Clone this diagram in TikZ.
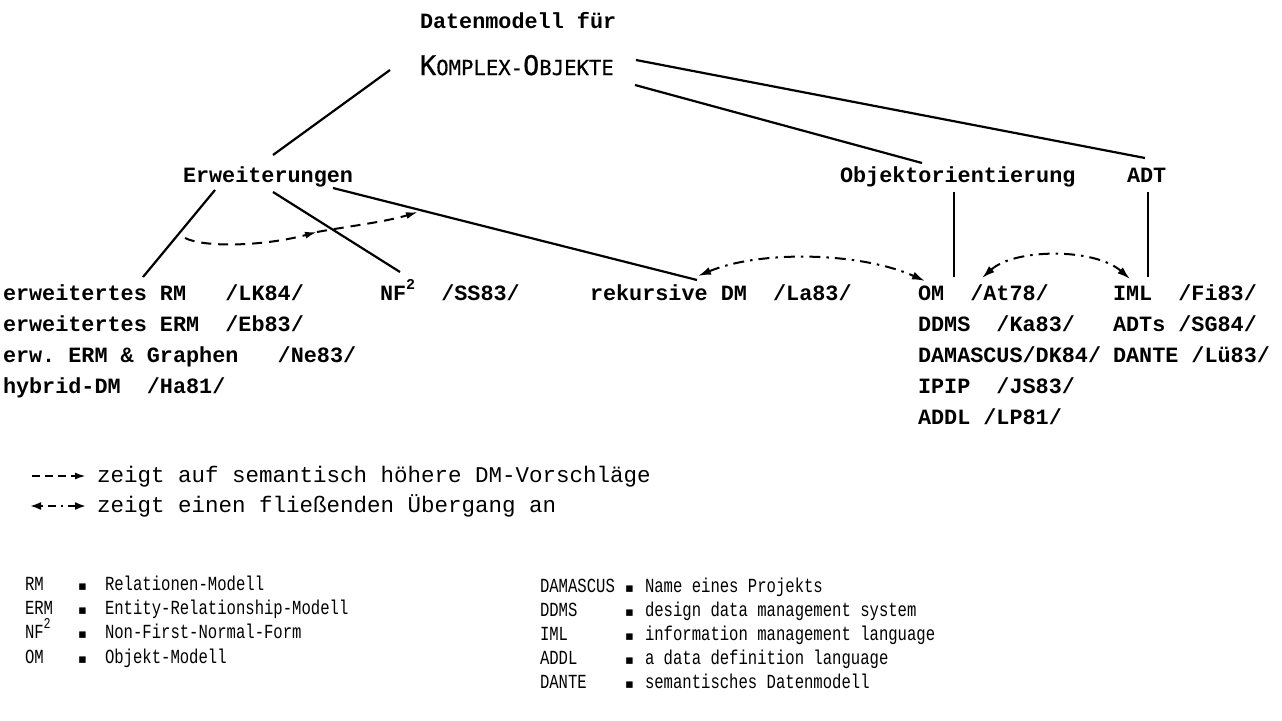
\documentclass[tikz,border=0pt]{standalone}
\usepackage{fontspec}
\usetikzlibrary{arrows.meta}
\newfontfamily\tyf{Liberation Mono}
\newfontfamily\tyn[FakeStretch=0.78]{Liberation Mono}
\newfontfamily\kof[FakeBold=0.6]{DejaVu Sans Mono}
\newfontfamily\symf{DejaVu Sans}
\newcommand\supii{\raisebox{0.5em}{\fontsize{15}{15}\selectfont 2}}
\newcommand\eqm{{\symf\fontsize{13}{13}\selectfont ▪}}
\frenchspacing
\begin{document}
\begin{tikzpicture}[x=1pt,y=-1pt,
  every node/.style={inner sep=0pt,outer sep=0pt,anchor=base west},
  treetext/.style={font=\tyf\bfseries\fontsize{21.8}{26}\selectfont},
  legtext/.style={font=\tyf\fontsize{22.5}{26}\selectfont},
  deftext/.style={font=\tyn\fontsize{20}{24}\selectfont},
  conn/.style={line width=2.2pt},
  semarrow/.style={line width=2pt,dash pattern=on 10pt off 7pt,-{Latex[length=12pt,width=7pt]}},
  flowarrow/.style={line width=2pt,dash pattern=on 11pt off 6pt on 2.5pt off 6pt,
    {Latex[length=13pt,width=8pt]}-{Latex[length=13pt,width=8pt]}}]
\fill[white] (0,0) rectangle (1282,720);
\useasboundingbox (0,0) rectangle (1282,720);

% title
\node[treetext] (datenm) at (420,28) {Datenmodell für};
\node[font=\kof] (komplex) at (420,75) {{\fontsize{27}{30}\selectfont K}{\fontsize{20.6}{24}\selectfont OMPLEX-}{\fontsize{27}{30}\selectfont O}{\fontsize{20.6}{24}\selectfont BJEKTE}};

% second level
\node[treetext] (erw) at (183,182) {Erweiterungen};
\node[treetext] (obj) at (840,182) {Objektorientierung};
\node[treetext] (adt) at (1127,182) {ADT};

% leaves: extensions
\node[treetext] (l1) at (3,300) {erweitertes RM~~~/LK84/};
\node[treetext] (l2) at (3,331) {erweitertes ERM~~/Eb83/};
\node[treetext] (l3) at (3,362) {erw. ERM \& Graphen~~~/Ne83/};
\node[treetext] (l4) at (3,393) {hybrid-DM~~/Ha81/};
\node[treetext] (nf) at (380,300) {NF\supii~~/SS83/};
\node[treetext] (rek) at (590,300) {rekursive DM~~/La83/};

% leaves: object orientation
\node[treetext] (om) at (918,300) {OM~~/At78/};
\node[treetext] (ddms) at (918,331) {DDMS~~/Ka83/};
\node[treetext] (dama) at (918,362) {DAMASCUS/DK84/};
\node[treetext] (ipip) at (918,393) {IPIP~~/JS83/};
\node[treetext] (addl) at (918,424) {ADDL /LP81/};

% leaves: ADT
\node[treetext] (iml) at (1113,300) {IML~~/Fi83/};
\node[treetext] (adts) at (1113,331) {ADTs /SG84/};
\node[treetext] (dante) at (1113,362) {DANTE /Lü83/};

% tree edges
\draw[conn] ([shift={(-30,-5)}]komplex.base west) -- ([shift={(90,-27)}]erw.base west);
\draw[conn] ([shift={(216,-15)}]komplex.base west) -- ([shift={(18,-24)}]adt.base west);
\draw[conn] ([shift={(215,10)}]komplex.base west) -- ([shift={(82,-19)}]obj.base west);
\draw[conn] ([shift={(32,8)}]erw.base west) -- ([shift={(140,-23)}]l1.base west);
\draw[conn] ([shift={(90,10)}]erw.base west) -- ([shift={(20,-28)}]nf.base west);
\draw[conn] ([shift={(150,6)}]erw.base west) -- ([shift={(107,-20)}]rek.base west);
\draw[conn] ([shift={(114,10)}]obj.base west) -- ([shift={(36,-23)}]om.base west);
\draw[conn] ([shift={(21,10)}]adt.base west) -- ([shift={(35,-23)}]iml.base west);

% semantically higher proposals
\coordinate (dA) at (185,238);
\coordinate (dB) at (317,232);
\coordinate (dC) at (418,212);
\draw[semarrow] (dA) .. controls (205,248) and (265,246) .. (dB);
\draw[semarrow] (dB) .. controls (350,226) and (385,222) .. (dC);

% smooth transitions
\draw[flowarrow] ([shift={(108,-24)}]rek.base west) .. controls (760,250) and (860,252) .. ([shift={(7,-19)}]om.base west);
\draw[flowarrow] ([shift={(64,-22)}]om.base west) .. controls (1015,248) and (1095,248) .. ([shift={(17,-21)}]iml.base west);

% legend of line styles
\coordinate (s1a) at (32,476);
\coordinate (s1b) at (86,476);
\draw[line width=2pt,dash pattern=on 8pt off 5pt,-{Latex[length=11pt,width=7pt]}] (s1a) -- (s1b);
\node[legtext] (sem) at (97,482) {zeigt auf semantisch höhere DM-Vorschläge};
\coordinate (s2a) at (30,506);
\coordinate (s2b) at (86,506);
\draw[line width=2pt,dash pattern=on 2.5pt off 5pt on 8pt off 5pt,
  {Latex[length=11pt,width=8pt]}-{Latex[length=11pt,width=8pt]}] (s2a) -- (s2b);
\node[legtext] (flow) at (97,512) {zeigt einen fließenden Übergang an};

% abbreviations, left
\node[deftext] (aRM) at (25,590) {RM};
\node[deftext] (eRM) at (78,590) {\eqm};
\node[deftext] (dRM) at (105,590) {Relationen-Modell};
\node[deftext] (aERM) at (25,614) {ERM};
\node[deftext] (eERM) at (78,614) {\eqm};
\node[deftext] (dERM) at (105,614) {Entity-Relationship-Modell};
\node[deftext] (aNF) at (25,638) {NF\supii};
\node[deftext] (eNF) at (78,638) {\eqm};
\node[deftext] (dNF) at (105,638) {Non-First-Normal-Form};
\node[deftext] (aOM) at (25,663) {OM};
\node[deftext] (eOM) at (78,663) {\eqm};
\node[deftext] (dOM) at (105,663) {Objekt-Modell};

% abbreviations, right
\node[deftext] (aDA) at (540,592) {DAMASCUS};
\node[deftext] (eDA) at (625,592) {\eqm};
\node[deftext] (dDA) at (645,592) {Name eines Projekts};
\node[deftext] (aDD) at (540,616) {DDMS};
\node[deftext] (eDD) at (625,616) {\eqm};
\node[deftext] (dDD) at (645,616) {design data management system};
\node[deftext] (aIM) at (540,640) {IML};
\node[deftext] (eIM) at (625,640) {\eqm};
\node[deftext] (dIM) at (645,640) {information management language};
\node[deftext] (aAD) at (540,664) {ADDL};
\node[deftext] (eAD) at (625,664) {\eqm};
\node[deftext] (dAD) at (645,664) {a data definition language};
\node[deftext] (aDN) at (540,688) {DANTE};
\node[deftext] (eDN) at (625,688) {\eqm};
\node[deftext] (dDN) at (645,688) {semantisches Datenmodell};
\end{tikzpicture}
\end{document}
